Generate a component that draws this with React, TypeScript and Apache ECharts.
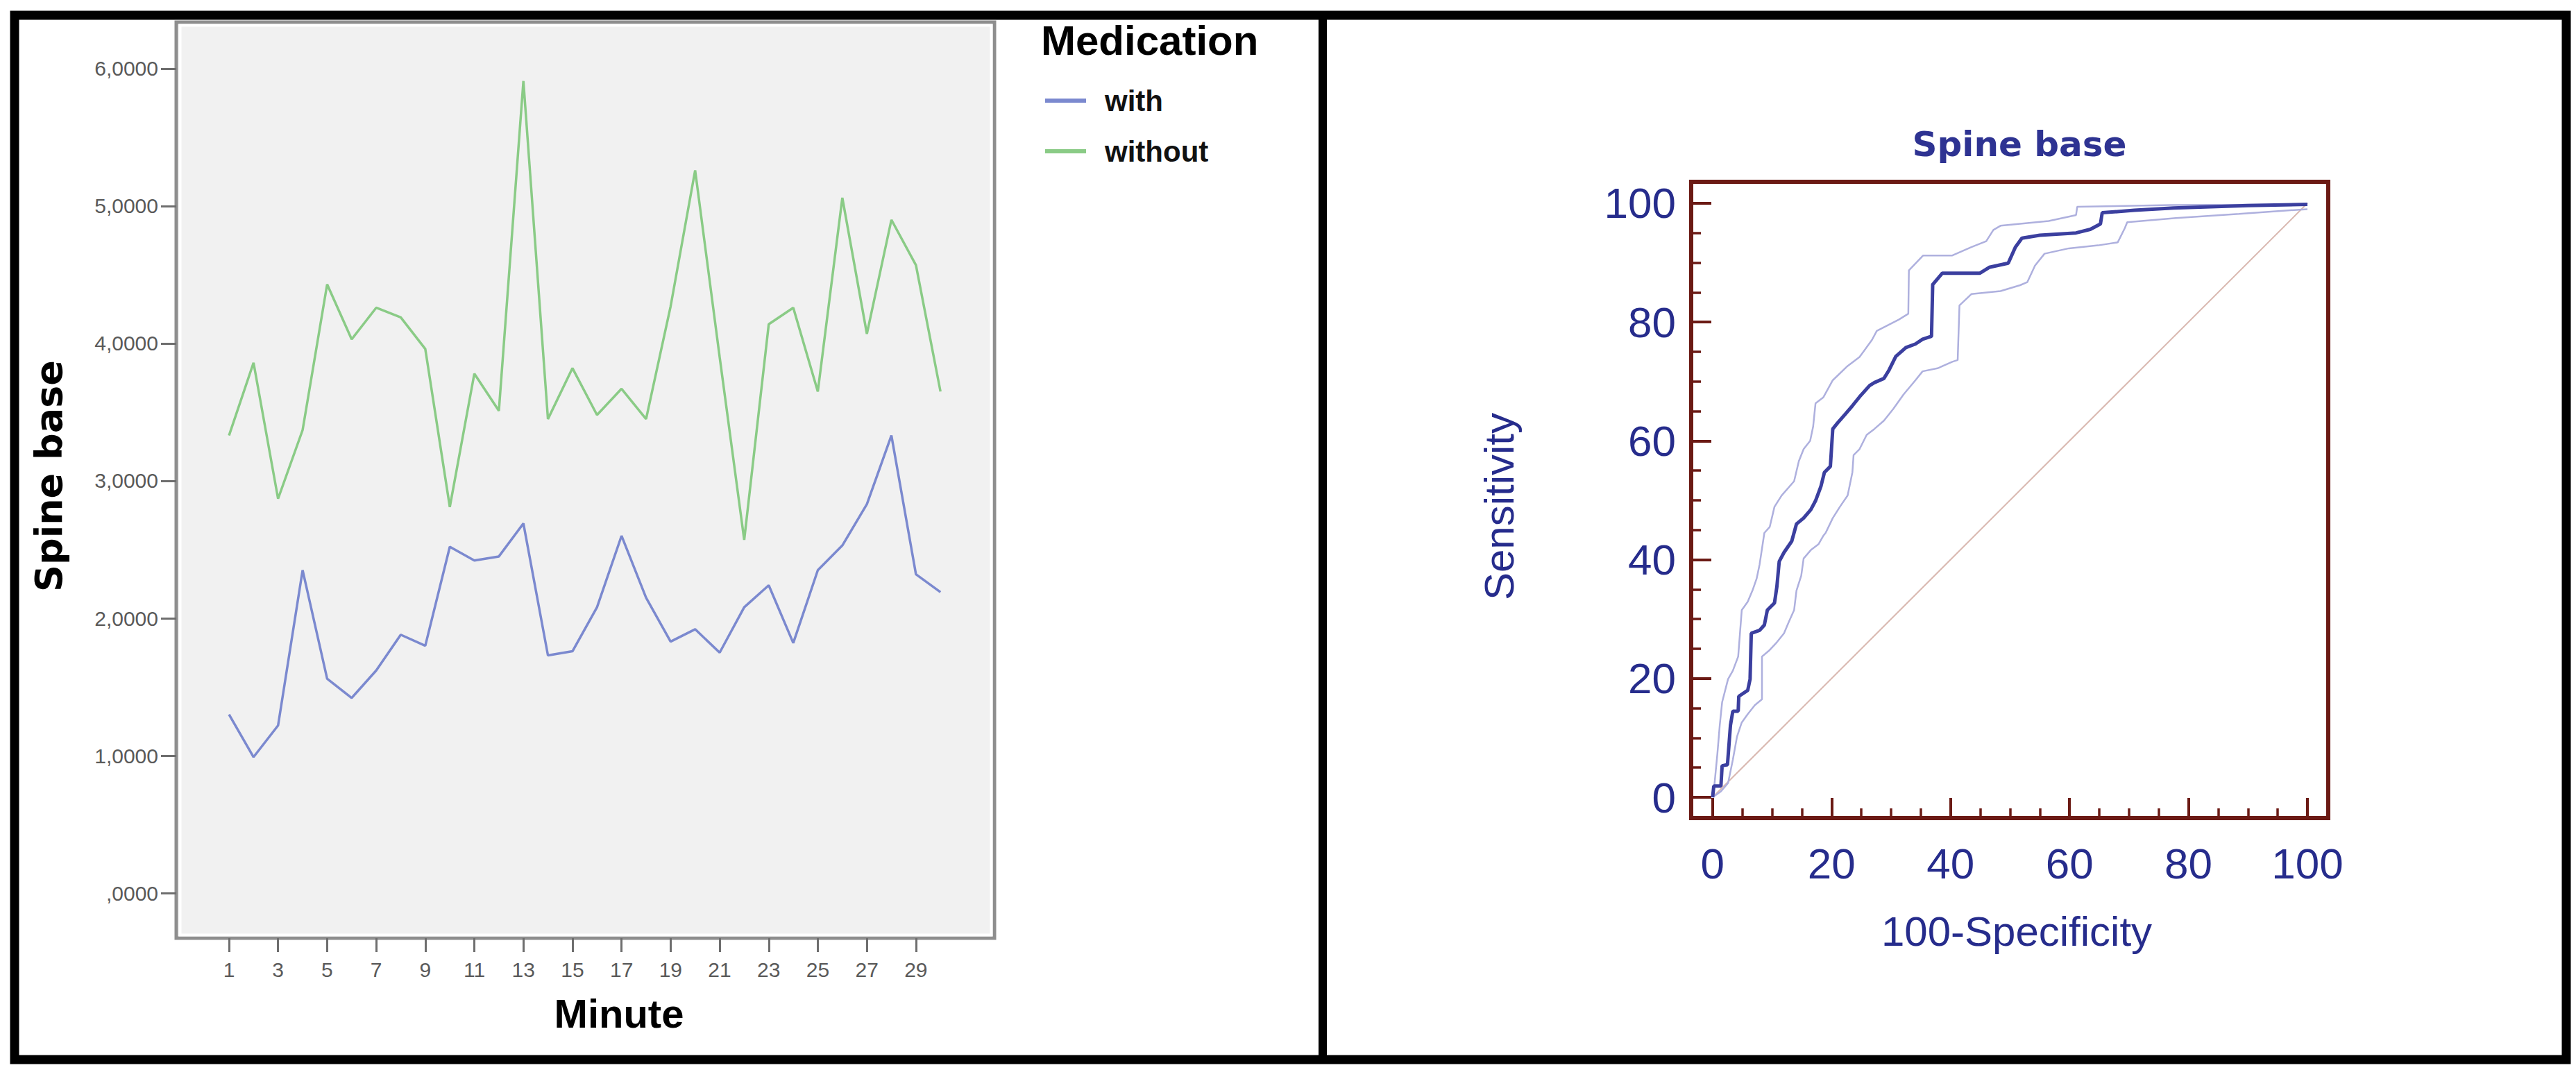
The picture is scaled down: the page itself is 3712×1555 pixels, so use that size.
import React, { useEffect, useRef } from "react";
import * as echarts from "echarts";

// ---------- Left chart data (SPSS line chart) ----------
const minutes = [1, 2, 3, 4, 5, 6, 7, 8, 9, 10, 11, 12, 13, 14, 15, 16, 17, 18, 19, 20, 21, 22, 23, 24, 25, 26, 27, 28, 29, 30];
const withMedication = [1.30, 0.99, 1.22, 2.35, 1.56, 1.42, 1.62, 1.88, 1.80, 2.52, 2.42, 2.45, 2.69, 1.73, 1.76, 2.08, 2.60, 2.15, 1.83, 1.92, 1.75, 2.08, 2.24, 1.82, 2.35, 2.53, 2.83, 3.33, 2.32, 2.19];
const withoutMedication = [3.33, 3.86, 2.87, 3.37, 4.43, 4.03, 4.26, 4.19, 3.96, 2.81, 3.78, 3.51, 5.91, 3.45, 3.82, 3.48, 3.67, 3.45, 4.27, 5.26, 3.90, 2.57, 4.14, 4.26, 3.65, 5.06, 4.07, 4.90, 4.57, 3.65];
const spineTicks = [0, 1, 2, 3, 4, 5, 6];
const minuteTicks = [1, 3, 5, 7, 9, 11, 13, 15, 17, 19, 21, 23, 25, 27, 29];
const legendNames = ["with", "without"];

// ---------- Right chart data (ROC curve) ----------
const rocMajorTicks = [0, 20, 40, 60, 80, 100];
const rocMinorTicks = [5, 10, 15, 25, 30, 35, 45, 50, 55, 65, 70, 75, 85, 90, 95];
const rocCurve = [
  [0, 0], [0.2, 1.9], [1.4, 1.9], [1.6, 5.3], [2.5, 5.5], [3.0, 12.1], [3.4, 14.5], [4.3, 14.5],
  [4.4, 17.0], [5.9, 18.0], [6.3, 19.9], [6.5, 27.6], [7.9, 28.1], [8.7, 29.0], [9.2, 31.5],
  [10.4, 32.7], [10.8, 35.4], [11.2, 39.7], [12.0, 41.2], [13.3, 43.1], [14.1, 46.0], [15.3, 47.0],
  [16.5, 48.4], [17.3, 49.9], [18.2, 52.3], [18.8, 54.7], [19.8, 55.7], [20.2, 62.0], [21.0, 63.0],
  [22.3, 64.5], [23.5, 65.9], [24.7, 67.4], [26.4, 69.3], [27.2, 69.8], [28.8, 70.5], [29.6, 71.8],
  [30.8, 74.2], [32.5, 75.7], [34.1, 76.3], [35.3, 77.1], [36.8, 77.6], [37.0, 86.3], [38.6, 88.2],
  [44.9, 88.2], [46.5, 89.2], [49.7, 89.9], [50.9, 92.6], [52.0, 94.1], [55.0, 94.6], [61.1, 95.0],
  [63.5, 95.6], [65.2, 96.5], [65.5, 98.4], [70.9, 98.8], [77.5, 99.2], [90.0, 99.6], [100, 99.8],
];
const rocUpper = [
  [0, 0], [0.2, 1.0], [0.8, 7.3], [1.2, 12.1], [1.6, 16.0], [2.6, 19.9], [3.4, 21.3], [4.3, 23.7],
  [4.9, 31.5], [5.9, 32.9], [6.7, 34.8], [7.4, 36.8], [7.9, 39.2], [8.7, 44.5], [9.6, 45.5],
  [10.4, 48.9], [11.6, 50.8], [13.7, 53.2], [14.5, 56.6], [15.3, 58.6], [16.4, 60.0], [16.9, 62.4],
  [17.3, 66.3], [18.6, 67.3], [20.2, 70.2], [22.7, 72.6], [24.7, 74.1], [26.8, 77.0], [27.6, 78.5],
  [31.3, 80.4], [32.9, 81.4], [33.0, 88.7], [35.4, 91.2], [40.3, 91.2], [43.5, 92.6], [46.0, 93.6],
  [47.2, 95.5], [48.4, 96.2], [56.5, 97.0], [61.1, 98.0], [61.3, 99.4], [77.0, 99.7], [100, 99.8],
];
const rocLower = [
  [0, 0], [1.4, 1.0], [2.6, 2.4], [3.4, 6.3], [4.1, 10.2], [4.9, 12.6], [5.9, 14.0], [7.1, 15.5],
  [8.3, 16.5], [8.3, 23.7], [9.5, 24.7], [10.8, 26.1], [12.0, 27.6], [12.8, 29.5], [13.7, 31.5],
  [14.1, 34.8], [14.9, 37.3], [15.3, 40.2], [16.5, 41.6], [17.8, 42.6], [18.6, 44.0], [19.0, 44.5],
  [20.2, 47.0], [21.4, 48.9], [22.7, 50.8], [23.5, 54.7], [23.7, 57.6], [24.7, 58.6], [25.9, 61.0],
  [27.2, 62.0], [28.8, 63.4], [30.4, 65.4], [32.1, 67.8], [34.1, 70.2], [35.3, 71.7], [37.8, 72.2],
  [40.3, 73.3], [41.2, 73.6], [41.5, 82.8], [43.5, 84.7], [48.4, 85.2], [51.7, 86.2], [52.9, 86.7],
  [54.2, 89.5], [55.8, 91.5], [59.9, 92.4], [64.8, 92.9], [68.1, 93.4], [69.3, 95.8], [69.7, 96.8],
  [77.9, 97.5], [88.5, 98.2], [100, 99.0],
];
const diagonal = [[0, 0], [100, 100]];

const WITH_COLOR = "#7b89cf";
const WITHOUT_COLOR = "#8acb86";
const ROC_AXIS = "#6b1a14";
const ROC_TEXT = "#262c8c";

function spineLabel(v: number): string {
  return v.toFixed(4).replace(".", ",").replace(/^0/, "");
}

export default function App() {
  const ref = useRef<HTMLDivElement>(null);

  useEffect(() => {
    if (!ref.current) return;
    const chart = echarts.init(ref.current, null, { renderer: "svg" });

    const option: any = {
      animation: false,
      backgroundColor: "#ffffff",
      grid: [
        {
          left: 254, top: 32, width: 1179, height: 1320,
          show: true, backgroundColor: "#f1f1f1", borderColor: "#8e8e8e", borderWidth: 5,
        },
        {
          left: 2437, top: 262, width: 918, height: 917,
          show: true, backgroundColor: "#ffffff", borderColor: ROC_AXIS, borderWidth: 6,
        },
      ],
      xAxis: [
        {
          type: "value", gridIndex: 0, min: -1.15, max: 32.2, position: "bottom",
          axisLine: { show: false, onZero: false },
          splitLine: { show: false },
          axisTick: { show: true, customValues: minuteTicks, length: 20, lineStyle: { color: "#6e6e6e", width: 3 } },
          axisLabel: { customValues: minuteTicks, fontSize: 30, color: "#5a5a5a", margin: 30, fontFamily: "Liberation Sans" },
        },
        {
          type: "value", gridIndex: 1, min: -3.6, max: 103.5, position: "bottom",
          axisLine: { show: false, onZero: false },
          splitLine: { show: false },
          axisTick: { show: true, inside: true, customValues: rocMajorTicks, length: 29, lineStyle: { color: ROC_AXIS, width: 4 } },
          axisLabel: { customValues: rocMajorTicks, fontSize: 62, color: ROC_TEXT, margin: 34, fontFamily: "Liberation Sans" },
        },
        {
          type: "value", gridIndex: 1, min: -3.6, max: 103.5, position: "bottom",
          axisLine: { show: false, onZero: false },
          splitLine: { show: false },
          axisTick: { show: true, inside: true, customValues: rocMinorTicks, length: 14, lineStyle: { color: ROC_AXIS, width: 3.5 } },
          axisLabel: { show: false },
        },
      ],
      yAxis: [
        {
          type: "value", gridIndex: 0, min: -0.328, max: 6.338, position: "left",
          axisLine: { show: false, onZero: false },
          splitLine: { show: false },
          axisTick: { show: true, customValues: spineTicks, length: 22, lineStyle: { color: "#6e6e6e", width: 3 } },
          axisLabel: { customValues: spineTicks, fontSize: 30, color: "#5a5a5a", margin: 26, fontFamily: "Liberation Sans", formatter: (v: number) => spineLabel(v) },
        },
        {
          type: "value", gridIndex: 1, min: -3.5, max: 103.6, position: "left",
          axisLine: { show: false, onZero: false },
          splitLine: { show: false },
          axisTick: { show: true, inside: true, customValues: rocMajorTicks, length: 29, lineStyle: { color: ROC_AXIS, width: 4 } },
          axisLabel: { customValues: rocMajorTicks, fontSize: 62, color: ROC_TEXT, margin: 22, fontFamily: "Liberation Sans" },
        },
        {
          type: "value", gridIndex: 1, min: -3.5, max: 103.6, position: "left",
          axisLine: { show: false, onZero: false },
          splitLine: { show: false },
          axisTick: { show: true, inside: true, customValues: rocMinorTicks, length: 14, lineStyle: { color: ROC_AXIS, width: 3.5 } },
          axisLabel: { show: false },
        },
      ],
      legend: {
        data: legendNames,
        orient: "vertical",
        left: 1506,
        top: 124,
        padding: 0,
        icon: "rect",
        itemWidth: 59,
        itemHeight: 6,
        itemGap: 31,
        textStyle: { fontSize: 42, fontWeight: "bold", color: "#111111", fontFamily: "Liberation Sans", padding: [0, 0, 0, 22] },
      },
      series: [
        {
          name: legendNames[0], type: "line", xAxisIndex: 0, yAxisIndex: 0,
          data: minutes.map((m, i) => [m, withMedication[i]]),
          symbol: "none", showSymbol: false,
          lineStyle: { color: WITH_COLOR, width: 3.5 }, itemStyle: { color: WITH_COLOR },
        },
        {
          name: legendNames[1], type: "line", xAxisIndex: 0, yAxisIndex: 0,
          data: minutes.map((m, i) => [m, withoutMedication[i]]),
          symbol: "none", showSymbol: false,
          lineStyle: { color: WITHOUT_COLOR, width: 3.5 }, itemStyle: { color: WITHOUT_COLOR },
        },
        {
          name: "Reference line", type: "line", xAxisIndex: 1, yAxisIndex: 1, data: diagonal,
          symbol: "none", lineStyle: { color: "#d9b8b0", width: 2 }, itemStyle: { color: "#d9b8b0" },
        },
        {
          name: "Lower 95% CI", type: "line", xAxisIndex: 1, yAxisIndex: 1, data: rocLower,
          symbol: "none", lineStyle: { color: "#aeb0de", width: 2.5 }, itemStyle: { color: "#aeb0de" },
        },
        {
          name: "Upper 95% CI", type: "line", xAxisIndex: 1, yAxisIndex: 1, data: rocUpper,
          symbol: "none", lineStyle: { color: "#aeb0de", width: 2.5 }, itemStyle: { color: "#aeb0de" },
        },
        {
          name: "ROC curve", type: "line", xAxisIndex: 1, yAxisIndex: 1, data: rocCurve,
          symbol: "none", lineStyle: { color: "#3b3f9f", width: 5 }, itemStyle: { color: "#3b3f9f" },
        },
      ],
      graphic: [
        // inner white strip of the SPSS plot frame
        { type: "rect", z: 0, silent: true, shape: { x: 259.5, y: 36.5, width: 1169, height: 1311 }, style: { fill: null, stroke: "#ffffff", lineWidth: 4 } },
        // outer black frame and divider
        { type: "rect", z: 100, silent: true, shape: { x: 21, y: 22, width: 3677, height: 1505 }, style: { fill: null, stroke: "#000000", lineWidth: 13 } },
        { type: "line", z: 100, silent: true, shape: { x1: 1906, y1: 22, x2: 1906, y2: 1527 }, style: { stroke: "#000000", lineWidth: 12 } },
        // left chart titles
        { type: "text", z: 10, x: 70, y: 686, rotation: Math.PI / 2, style: { text: "Spine base", fontSize: 54, fontWeight: "bold", fontFamily: "DejaVu Sans", fill: "#000000", align: "center", verticalAlign: "middle" } },
        { type: "text", z: 10, x: 892, y: 1460, style: { text: "Minute", fontSize: 58, fontWeight: "bold", fontFamily: "Liberation Sans", fill: "#000000", align: "center", verticalAlign: "middle" } },
        { type: "text", z: 10, x: 1500, y: 58, style: { text: "Medication", fontSize: 60, fontWeight: "bold", fontFamily: "Liberation Sans", fill: "#000000", align: "left", verticalAlign: "middle" } },
        // right chart titles
        { type: "text", z: 10, x: 2910, y: 208, style: { text: "Spine base", fontSize: 50, fontWeight: "bold", fontFamily: "DejaVu Sans", fill: "#2e3392", align: "center", verticalAlign: "middle" } },
        { type: "text", z: 10, x: 2160, y: 730, rotation: Math.PI / 2, style: { text: "Sensitivity", fontSize: 60, fontFamily: "Liberation Sans", fill: ROC_TEXT, align: "center", verticalAlign: "middle" } },
        { type: "text", z: 10, x: 2906, y: 1342, style: { text: "100-Specificity", fontSize: 60, fontFamily: "Liberation Sans", fill: ROC_TEXT, align: "center", verticalAlign: "middle" } },
      ],
    };

    chart.setOption(option);
    return () => chart.dispose();
  }, []);

  return (
    <div
      ref={ref}
      style={{ position: "fixed", left: 0, top: 0, width: 3712, height: 1555, background: "#ffffff" }}
    />
  );
}
